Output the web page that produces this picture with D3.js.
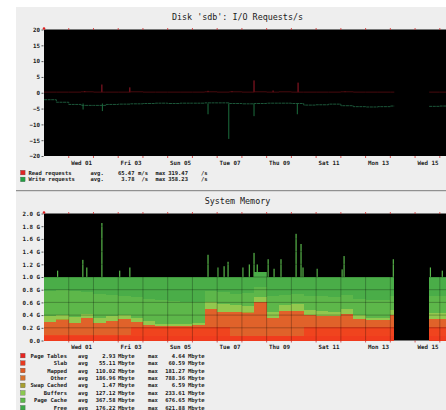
<!DOCTYPE html>
<html>
<head>
<meta charset="utf-8">
<script src="https://cdn.jsdelivr.net/npm/d3@7"></script>
<style>
  body { margin: 0; background: #fff; }
  text { font-family: "DejaVu Sans Mono", monospace; fill: #1a1a1a; }
</style>
</head>
<body>
<svg id="chart" width="446" height="410"></svg>
<script>
/* global d3 */

// interval boundaries, in days from Wed 01 00:00 (value i holds from times[i] to times[i+1])
const times = [-1, -0.5, 0, 0.5, 1, 1.5, 2, 2.5, 3, 3.5, 4, 4.5, 5, 5.5, 6, 6.5,
  7, 7.5, 8, 8.5, 9, 9.5, 10, 10.5, 11, 11.5, 12, 12.5, 13, 13.16, 14.57, 15, 15.25];

const dayLabels = ["Wed 01", "Fri 03", "Sun 05", "Tue 07", "Thu 09", "Sat 11", "Mon 13", "Wed 15"];
const dayLabelAt = [0.5, 2.5, 4.5, 6.5, 8.5, 10.5, 12.5, 14.5];
const dayLines = [0, 1, 2, 3, 4, 5, 6, 7, 8, 9, 10, 11, 12, 13, 14, 15];

// ---- Disk 'sdb' I/O requests/s
const ioReads = [0.2, 0.2, 0.2, 0.3, 0.2, 0.2, 0.2, 0.3, 0.2, 0.2, 0.2, 0.2, 0.2, 0.3, 0.2, 0.3,
  0.2, 0.3, 0.2, 0.3, 0.2, 0.2, 0.2, 0.2, 0.3, 0.2, 0.2, 0.2, 0.2, null, 0.2, 0.2];
const ioWrites = [2.2, 3.0, 3.7, 4.0, 4.0, 3.7, 3.6, 3.5, 3.4, 3.3, 3.4, 3.3, 3.3, 3.2, 3.2, 3.4,
  3.5, 3.4, 3.3, 3.3, 3.4, 3.9, 3.8, 3.6, 4.1, 4.4, 4.5, 4.4, 4.2, null, 4.3, 4.2];
const readSpikeT = [0.65, 1.34, 2.47, 5.63, 6.6, 7.49, 8.26, 9.27, 11.17];
const readSpikeV = [0.5, 2.6, 1.7, 0.6, 0.5, 3.9, 0.7, 3.2, 0.4];
const writeSpikeT = [0.58, 1.36, 5.63, 6.47, 7.49, 9.24];
const writeSpikeV = [5.3, 5.8, 6.8, 14.6, 7.4, 6.8];

const ioLabels = ["Read requests", "Write requests"];
const ioAvg = ["65.47", "3.78"];
const ioAvgUnit = ["m/s", "/s"];
const ioMax = ["319.47", "358.23"];
const ioColors = ["#e02424", "#22a044"];

// ---- System memory, GB per layer
const pageTables = [0.003, 0.003, 0.003, 0.003, 0.003, 0.003, 0.003, 0.003, 0.003, 0.003, 0.003, 0.003, 0.003, 0.003, 0.003, 0.003,
  0.003, 0.003, 0.003, 0.003, 0.003, 0.003, 0.003, 0.003, 0.003, 0.003, 0.003, 0.003, 0.003, null, 0.003, 0.003];
const slab = [0.06, 0.06, 0.06, 0.06, 0.06, 0.06, 0.06, 0.06, 0.06, 0.06, 0.06, 0.06, 0.06, 0.06, 0.06, 0.06,
  0.06, 0.06, 0.06, 0.06, 0.06, 0.06, 0.06, 0.06, 0.06, 0.06, 0.06, 0.06, 0.06, null, 0.06, 0.06];
const mapped = [0.027, 0.027, 0.027, 0.027, 0.027, 0.027, 0.027, 0.147, 0.147, 0.147, 0.147, 0.147, 0.147, 0.147, 0.147, 0.007,
  0.007, 0.007, 0.007, 0.007, 0.007, 0.147, 0.147, 0.147, 0.147, 0.147, 0.147, 0.147, 0.147, null, 0.147, 0.147];
const other = [0.20, 0.24, 0.19, 0.27, 0.19, 0.21, 0.25, 0.08, 0.03, 0.02, 0.02, 0.02, 0.03, 0.29, 0.24, 0.38,
  0.37, 0.53, 0.28, 0.39, 0.40, 0.19, 0.17, 0.17, 0.21, 0.13, 0.11, 0.11, 0.19, null, 0.13, 0.13];
const swapCached = [0.002, 0.002, 0.002, 0.002, 0.002, 0.002, 0.002, 0.002, 0.002, 0.002, 0.002, 0.002, 0.002, 0.002, 0.002, 0.002,
  0.002, 0.002, 0.002, 0.002, 0.002, 0.002, 0.002, 0.002, 0.002, 0.002, 0.002, 0.002, 0.002, null, 0.002, 0.002];
const buffers = [0.088, 0.068, 0.088, 0.058, 0.078, 0.078, 0.058, 0.068, 0.058, 0.028, 0.028, 0.028, 0.038, 0.098, 0.128, 0.108,
  0.108, 0.078, 0.098, 0.098, 0.108, 0.078, 0.078, 0.068, 0.078, 0.058, 0.038, 0.038, 0.078, null, 0.098, 0.098];
const pageCache = [0.40, 0.40, 0.41, 0.34, 0.38, 0.34, 0.30, 0.32, 0.36, 0.38, 0.36, 0.34, 0.32, 0.18, 0.18, 0.18,
  0.20, 0.17, 0.25, 0.16, 0.16, 0.22, 0.24, 0.23, 0.22, 0.26, 0.28, 0.28, 0.22, null, 0.26, 0.26];
const free = [0.22, 0.20, 0.22, 0.24, 0.26, 0.28, 0.30, 0.32, 0.34, 0.36, 0.38, 0.40, 0.40, 0.22, 0.24, 0.26,
  0.25, 0.23, 0.30, 0.28, 0.26, 0.30, 0.30, 0.32, 0.28, 0.34, 0.36, 0.36, 0.30, null, 0.30, 0.30];
const memSpikeT = [-0.45, 0.57, 0.73, 1.34, 2.06, 2.47, 5.63, 6.03, 6.28, 6.44, 7.04, 7.3, 7.49, 7.62, 8.06, 8.3,
  8.58, 9.19, 9.39, 9.47, 10.04, 11.05, 11.13, 13.12, 14.62, 15.1];
const memSpikeV = [1.1, 1.27, 1.15, 1.85, 1.1, 1.15, 1.35, 1.15, 1.17, 1.24, 1.15, 1.2, 1.38, 1.2, 1.28, 1.13,
  1.28, 1.68, 1.52, 1.15, 1.13, 1.12, 1.33, 1.28, 1.15, 1.1];

const memKeys = ["pageTables", "slab", "mapped", "other", "swapCached", "buffers", "pageCache", "free"];
const memSeries = [pageTables, slab, mapped, other, swapCached, buffers, pageCache, free];
const memLabels = ["Page Tables", "Slab", "Mapped", "Other", "Swap Cached", "Buffers", "Page Cache", "Free"];
const memAvg = ["2.93", "55.11", "110.02", "186.96", "1.47", "127.12", "367.58", "176.22"];
const memMax = ["4.64", "60.59", "181.27", "788.36", "6.59", "233.61", "676.65", "621.88"];
const memFill = ["#f03a1c", "#f03c1e", "#f0441e", "#e0622a", "#a8a030", "#92c84e", "#5db74a", "#4aad48"];
const memSwatch = ["#e82420", "#e83a20", "#e05a24", "#d8702c", "#a8a030", "#8cc850", "#5cb848", "#3ca848"];

const svg = d3.select("#chart");

// panel background and separator
svg.append("rect").attr("x", 16).attr("y", 7).attr("width", 430).attr("height", 403).attr("fill", "#eeeeee");
svg.append("line").attr("x1", 16).attr("x2", 446).attr("y1", 190.7).attr("y2", 190.7)
  .attr("stroke", "#7a7a7a").attr("stroke-width", 1);

const x = d3.scaleLinear().domain([-1, 15.25]).range([44, 446]);
const yIO = d3.scaleLinear().domain([-20, 20]).range([156, 29.5]);
const yMem = d3.scaleLinear().domain([0, 2]).range([340.5, 213.5]);

function stepPoints(vals) {
  const pts = [];
  vals.forEach((v, i) => {
    pts.push({ t: times[i], v: v });
    if (v != null && (i === vals.length - 1 || vals[i + 1] == null))
      pts.push({ t: times[i + 1], v: v });
  });
  return pts;
}

function frame(y, title, titleY) {
  const [y0, y1] = y.range();
  svg.append("rect").attr("x", x.range()[0]).attr("y", y1)
    .attr("width", x.range()[1] - x.range()[0]).attr("height", y0 - y1).attr("fill", "#000");
  svg.append("text").attr("x", 237.5).attr("y", titleY).attr("text-anchor", "middle")
    .attr("dominant-baseline", "central").attr("font-size", 8.4).text(title);
}

function axes(y, ticks, fmt) {
  const [y0, y1] = y.range();
  const gy = svg.append("g").attr("transform", "translate(" + (x.range()[0] - 0.5) + ",0)")
    .call(d3.axisLeft(y).tickValues(ticks).tickFormat(fmt).tickSize(2).tickPadding(1.5));
  gy.select(".domain").remove();
  gy.selectAll("line").attr("stroke", "#555");
  gy.selectAll("text").attr("font-size", 5.8).attr("font-weight", "bold").attr("fill", "#1a1a1a");

  const gx = svg.append("g").attr("transform", "translate(0," + y0 + ")")
    .call(d3.axisBottom(x).tickValues(dayLabelAt).tickFormat((d, i) => dayLabels[i]).tickSize(0).tickPadding(4.5));
  gx.select(".domain").remove();
  gx.selectAll("text").attr("font-size", 5.8).attr("font-weight", "bold").attr("fill", "#1a1a1a");

  // red day marks on top and bottom edges
  svg.append("g").selectAll("line").data(dayLines).join("line")
    .attr("x1", d => x(d)).attr("x2", d => x(d)).attr("y1", y1 - 1.5).attr("y2", y1 + 0.5)
    .attr("stroke", "#d03030").attr("stroke-width", 0.8);
  svg.append("g").selectAll("line").data(dayLines).join("line")
    .attr("x1", d => x(d)).attr("x2", d => x(d)).attr("y1", y0).attr("y2", y0 + 2)
    .attr("stroke", "#d03030").attr("stroke-width", 0.8);
  svg.append("circle").attr("cx", x.range()[0]).attr("cy", y1 - 1).attr("r", 1.3).attr("fill", "#e02020");
}

const legendText = (sel, xPos, anchor, f) => sel.append("text").attr("x", xPos).attr("text-anchor", anchor)
  .attr("dominant-baseline", "central").attr("font-size", 5.5).attr("font-weight", "bold").text(f);

// ---------- top chart
frame(yIO, "Disk 'sdb': I/O Requests/s", 17.3);

svg.append("g").selectAll("line").data(writeSpikeT).join("line")
  .attr("x1", d => x(d)).attr("x2", d => x(d))
  .attr("y1", yIO(-3.4)).attr("y2", (d, i) => yIO(-writeSpikeV[i]))
  .attr("stroke", "#1f7a45").attr("stroke-width", 0.9);
svg.append("g").selectAll("line").data(readSpikeT).join("line")
  .attr("x1", d => x(d)).attr("x2", d => x(d))
  .attr("y1", yIO(0.2)).attr("y2", (d, i) => yIO(readSpikeV[i]))
  .attr("stroke", "#b01c2c").attr("stroke-width", 0.9);

const ioLine = d3.line().defined(p => p.v != null).x(p => x(p.t)).y(p => yIO(p.v)).curve(d3.curveStepAfter);
svg.append("path").datum(stepPoints(ioReads)).attr("d", ioLine)
  .attr("fill", "none").attr("stroke", "#5a0c12").attr("stroke-width", 0.8);
svg.append("path").datum(stepPoints(ioWrites.map(v => v == null ? null : -v))).attr("d", ioLine)
  .attr("fill", "none").attr("stroke", "#1f6040").attr("stroke-width", 0.9).attr("stroke-dasharray", "3,0.6");

axes(yIO, [20, 15, 10, 5, 0, -5, -10, -15, -20], d3.format("d"));

const ioLeg = svg.append("g").selectAll("g").data(ioLabels).join("g")
  .attr("transform", (d, i) => "translate(0," + (172.6 + i * 6.8) + ")");
ioLeg.append("rect").attr("x", 20.5).attr("y", -2.3).attr("width", 4.6).attr("height", 4.6)
  .attr("fill", (d, i) => ioColors[i]).attr("stroke", "#444").attr("stroke-width", 0.3);
legendText(ioLeg, 28.5, "start", d => d);
legendText(ioLeg, 90.5, "start", () => "avg.");
legendText(ioLeg, 134.5, "end", (d, i) => ioAvg[i]);
legendText(ioLeg, 148, "end", (d, i) => ioAvgUnit[i]);
legendText(ioLeg, 155.5, "start", () => "max");
legendText(ioLeg, 188, "end", (d, i) => ioMax[i]);
legendText(ioLeg, 201, "start", () => "/s");

// ---------- bottom chart
frame(yMem, "System Memory", 201.3);

const memTable = times.slice(0, -1).map((t, i) => {
  const row = { t0: t, t1: times[i + 1], ok: free[i] != null };
  memKeys.forEach((k, j) => { row[k] = memSeries[j][i] == null ? 0 : memSeries[j][i]; });
  return row;
});
const stacked = d3.stack().keys(memKeys)(memTable);

svg.append("g").selectAll("rect").data(memSpikeT).join("rect")
  .attr("x", d => x(d) - 0.6).attr("width", 1.2)
  .attr("y", (d, i) => yMem(memSpikeV[i])).attr("height", (d, i) => yMem(0.99) - yMem(memSpikeV[i]))
  .attr("fill", "#58b64a");

const layers = svg.append("g").attr("shape-rendering", "crispEdges");
stacked.forEach((layer, j) => {
  layers.append("g").selectAll("rect").data(layer.filter(s => s.data.ok)).join("rect")
    .attr("x", s => x(s.data.t0)).attr("width", s => x(s.data.t1) - x(s.data.t0))
    .attr("y", s => yMem(s[1])).attr("height", s => yMem(s[0]) - yMem(s[1]))
    .attr("fill", memFill[j]);
});

// grid drawn over the areas
const grid = svg.append("g").attr("stroke", "#000").attr("stroke-opacity", 0.38).attr("stroke-width", 0.7);
grid.selectAll("line.v").data(dayLines).join("line").attr("class", "v")
  .attr("x1", d => x(d)).attr("x2", d => x(d)).attr("y1", yMem.range()[1]).attr("y2", yMem.range()[0]);
grid.selectAll("line.h").data([0.2, 0.4, 0.6, 0.8, 1.0, 1.2, 1.4, 1.6, 1.8]).join("line").attr("class", "h")
  .attr("x1", x.range()[0]).attr("x2", x.range()[1]).attr("y1", d => yMem(d)).attr("y2", d => yMem(d));

axes(yMem, [2.0, 1.8, 1.6, 1.4, 1.2, 1.0, 0.8, 0.6, 0.4, 0.2, 0.0], d => d === 0 ? "0.0" : d.toFixed(1) + " G");

const memLeg = svg.append("g").selectAll("g").data(memLabels).join("g")
  .attr("transform", (d, i) => "translate(0," + (355.6 + i * 7.45) + ")");
memLeg.append("rect").attr("x", 20.5).attr("y", -2.3).attr("width", 4.6).attr("height", 4.6)
  .attr("fill", (d, i) => memSwatch[i]).attr("stroke", "#444").attr("stroke-width", 0.3);
legendText(memLeg, 67, "end", d => d);
legendText(memLeg, 78, "start", () => "avg");
legendText(memLeg, 115.5, "end", (d, i) => memAvg[i]);
legendText(memLeg, 118, "start", () => "Mbyte");
legendText(memLeg, 148, "start", () => "max");
legendText(memLeg, 185, "end", (d, i) => memMax[i]);
legendText(memLeg, 188, "start", () => "Mbyte");
</script>
</body>
</html>
